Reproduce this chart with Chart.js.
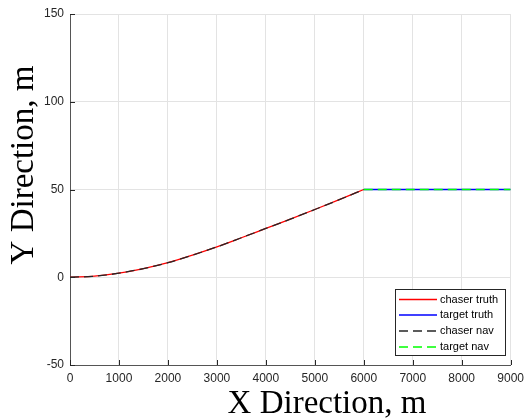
<!DOCTYPE html>
<html>
<head>
<meta charset="utf-8">
<script src="https://cdn.jsdelivr.net/npm/chart.js@4.4.1/dist/chart.umd.min.js"></script>
<style>
  body { margin: 0; background: #fff; }
  #plot { display: block; }
</style>
</head>
<body>
<canvas id="plot" width="530" height="418"></canvas>
<script>
// trajectory data
const chaserX = [0, 500, 1000, 1500, 2000, 2500, 3000, 3500, 4000, 4500, 5000, 5500, 6000];
const chaserY = [0, 0.6, 2.3, 4.9, 8.3, 12.6, 17.3, 22.5, 27.8, 33.1, 38.6, 44.2, 50];
const targetX = [6000, 9000];
const targetY = [50, 50];

const seriesNames = ['chaser truth', 'target truth', 'chaser nav', 'target nav'];
const seriesColors = ['#ff0000', '#0000ff', '#262626', '#00ff00'];
const seriesDashed = [false, false, true, true];

const xTitle = 'X Direction, m';
const yTitle = 'Y Direction, m';

const toPoints = function (xs, ys) {
    let pts = [];
    for (var i = 0; i < xs.length; i++) {
        pts.push({x: xs[i], y: ys[i]});
    }
    return pts;
};

const tickFont = {family: '"Liberation Sans", Arial, sans-serif', size: 12};
const titleFont = '33px "Liberation Serif", "Times New Roman", serif';
const dash = [9, 5];

const makeSet = function (i, pts) {
    return {
        label: seriesNames[i],
        data: pts,
        borderColor: seriesColors[i],
        borderWidth: 1.3,
        borderDash: seriesDashed[i] ? dash : [],
        pointRadius: 0,
        cubicInterpolationMode: 'monotone',
        order: 4 - i
    };
};

// inward tick marks, axis titles and the boxed legend inside the axes
const matlabLook = {
    id: 'matlabLook',
    afterDraw(chart) {
        const ctx = chart.ctx;
        const area = chart.chartArea;
        const xs = chart.scales.x, ys = chart.scales.y;
        ctx.save();
        ctx.strokeStyle = '#262626';
        ctx.lineWidth = 1;
        ctx.beginPath();
        xs.ticks.forEach(t => {
            const px = Math.round(xs.getPixelForValue(t.value)) + 0.5;
            ctx.moveTo(px, area.bottom);
            ctx.lineTo(px, area.bottom - 5);
        });
        ys.ticks.forEach(t => {
            const py = Math.round(ys.getPixelForValue(t.value)) + 0.5;
            ctx.moveTo(area.left, py);
            ctx.lineTo(area.left + 5, py);
        });
        ctx.stroke();

        // axis titles
        ctx.fillStyle = '#000';
        ctx.font = titleFont;
        ctx.textAlign = 'center';
        ctx.textBaseline = 'alphabetic';
        ctx.fillText(xTitle, 327, 413);
        ctx.translate(33, 165);
        ctx.rotate(-Math.PI / 2);
        ctx.fillText(yTitle, 0, 0);
        ctx.restore();

        // legend
        ctx.save();
        const bx = 395.5, by = 289.5, bw = 110, bh = 66;
        ctx.fillStyle = '#fff';
        ctx.fillRect(bx, by, bw, bh);
        ctx.strokeStyle = '#262626';
        ctx.lineWidth = 1;
        ctx.strokeRect(bx, by, bw, bh);
        const rows = [299.5, 315, 331, 347];
        ctx.font = '11px "Liberation Sans", Arial, sans-serif';
        ctx.textAlign = 'left';
        ctx.textBaseline = 'middle';
        for (var i = 0; i < seriesNames.length; i++) {
            ctx.beginPath();
            ctx.strokeStyle = seriesColors[i];
            ctx.lineWidth = 1.3;
            ctx.setLineDash(seriesDashed[i] ? dash : []);
            ctx.moveTo(399, rows[i]);
            ctx.lineTo(437, rows[i]);
            ctx.stroke();
            ctx.fillStyle = '#000';
            ctx.fillText(seriesNames[i], 440, rows[i]);
        }
        ctx.restore();
    }
};

const chart = new Chart(document.getElementById('plot'), {
    type: 'line',
    data: {
        datasets: [
            makeSet(0, toPoints(chaserX, chaserY)),
            makeSet(1, toPoints(targetX, targetY)),
            makeSet(2, toPoints(chaserX, chaserY)),
            makeSet(3, toPoints(targetX, targetY))
        ]
    },
    options: {
        responsive: false,
        animation: false,
        layout: { padding: { top: 14, right: 14, left: 0, bottom: 0 } },
        plugins: {
            legend: { display: false },
            tooltip: { enabled: false }
        },
        scales: {
            x: {
                type: 'linear',
                min: 0,
                max: 9000,
                afterFit: s => { s.height = 53; },
                ticks: { stepSize: 1000, color: '#262626', font: tickFont, padding: 6, maxRotation: 0,
                         callback: v => String(v) },
                grid: { color: '#e3e3e3', drawTicks: false },
                border: { color: '#555', width: 1 }
            },
            y: {
                type: 'linear',
                min: -50,
                max: 150,
                afterFit: s => { s.width = 70; },
                ticks: { stepSize: 50, color: '#262626', font: tickFont, padding: 6,
                         callback: v => String(v) },
                grid: { color: '#e3e3e3', drawTicks: false },
                border: { color: '#555', width: 1 }
            }
        }
    },
    plugins: [matlabLook]
});
</script>
</body>
</html>
